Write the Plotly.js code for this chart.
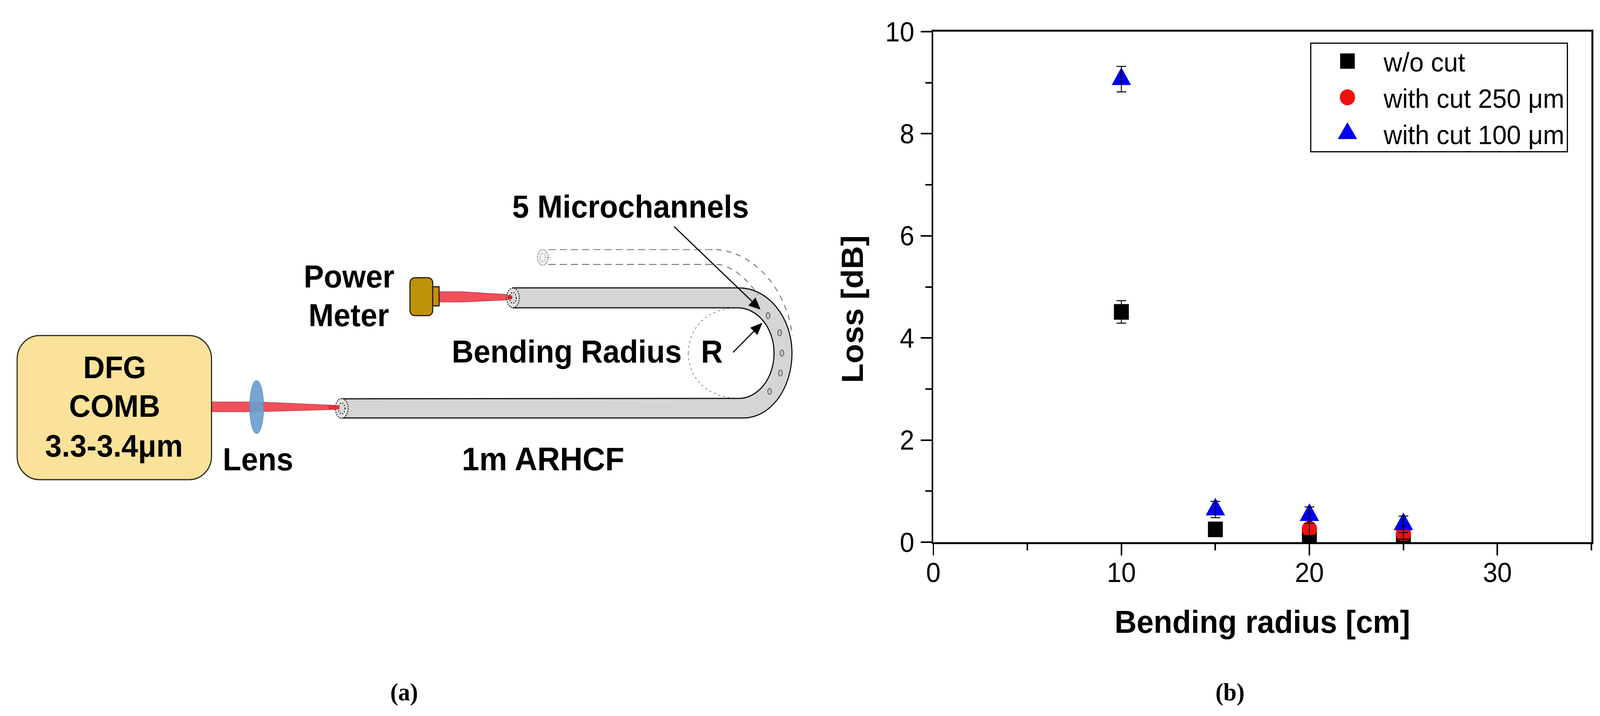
<!DOCTYPE html>
<html><head><meta charset="utf-8">
<script src="https://cdn.plot.ly/plotly-3.0.1.min.js"></script>
<style>html,body{margin:0;padding:0;background:#fff;overflow:hidden}</style></head>
<body><div id="chart" style="width:4289px;height:1833px;transform-origin:0 0"></div>
<script>
const W = 4289, H = 1833;
// Fit the drawing to the actual window if it differs from the nominal size
document.getElementById('chart').style.transform = `scale(${window.innerWidth / W},${window.innerHeight / H})`;
// Chart data
const radius = [10, 15, 20, 25];
const radius250 = [20, 25];
const lossNoCut = [4.51, 0.25, 0.08, 0.01];
const errNoCut = [0.22, 0.05, 0.05, 0.05];
const loss250 = [0.26, 0.17];
const err250 = [0.15, 0.15];
const loss100 = [9.07, 0.64, 0.53, 0.35];
const err100 = [0.25, 0.16, 0.16, 0.16];
const seriesNames = ['w/o cut', 'with cut 250 μm', 'with cut 100 μm'];
const xTicks = [0, 10, 20, 30];
const yTicks = [0, 2, 4, 6, 8, 10];
// Diagram labels: text, x, y (centre, page pixels)
const labelText = ['DFG', 'COMB', '3.3-3.4μm', 'Lens', 'Power', 'Meter', '5 Microchannels', 'Bending Radius', 'R', '1m ARHCF'];
const labelX = [307, 307, 305, 691, 935, 935, 1690, 1519, 1908, 1456];
const labelY = [940, 1039, 1141, 1176, 708, 807, 529, 900, 900, 1175];
const labelSize = [80, 80, 80, 81, 81, 81, 81, 81, 81, 84];
const channelX = [2059, 2090, 2096, 2092, 2063];
const channelY = [808, 852, 904, 955, 1002];

const sans = 'Liberation Sans, Arial, sans-serif';
const P = {xref: 'x2', yref: 'y2'};
const k = 0.5523;
function path(d, fill, color, width, dash) {
  const s = Object.assign({type: 'path', path: d, line: {color: color || 'rgba(0,0,0,0)', width: width === undefined ? 3 : width}}, P);
  if (fill) s.fillcolor = fill;
  if (dash) s.line.dash = dash;
  return s;
}
function ell(cx, cy, rx, ry, fill, color, width, dash, opacity) {
  const s = Object.assign({type: 'circle', x0: cx - rx, x1: cx + rx, y0: cy - ry, y1: cy + ry, fillcolor: fill || 'rgba(0,0,0,0)', line: {color: color, width: width, dash: dash || 'solid'}}, P);
  if (opacity !== undefined) s.opacity = opacity;
  return s;
}
function roundRect(x0, y0, x1, y1, r) {
  const c = r * (1 - k);
  return `M${x0 + r},${y0} L${x1 - r},${y0} C${x1 - c},${y0} ${x1},${y0 + c} ${x1},${y0 + r} L${x1},${y1 - r} C${x1},${y1 - c} ${x1 - c},${y1} ${x1 - r},${y1} L${x0 + r},${y1} C${x0 + c},${y1} ${x0},${y1 - c} ${x0},${y1 - r} L${x0},${y0 + r} C${x0},${y0 + c} ${x0 + c},${y0} ${x0 + r},${y0} Z`;
}
const fiber = `M1375,737 L1980,737 C${1980 + 143 * k},737 2123,${904 - 167 * k} 2123,904 C2123,${904 + 166 * k} ${1993 + 130 * k},1070 1993,1070 L916,1070 L916,1021 L1980,1020 C${1980 + 95 * k},1020 2075,${904 + 116 * k} 2075,904 C2075,${904 - 116 * k} ${1977 + 98 * k},788 1977,788 L1375,788 Z`;
const shapes = [
  path(`M567,1029 L690,1029 L910,1038 L910,1048 L690,1054 L567,1054 Z`, '#F0505A', '#C83A48', 1.5),
  path(`M1177,747 L1240,747 L1375,755 L1375,767 L1240,773 L1177,773 Z`, '#F0505A', '#B82A38', 1.5),
  path(roundRect(46, 859, 567, 1228, 60), '#FBE29B', '#2a2a1a', 3),
  ell(688, 1042, 18.5, 67.5, '#6C9FCF', '#5A8CBC', 2, 'solid', 0.92),
  path(`M1845,904 C1845,${904 - 116 * k} ${1960 - 115 * k},788 1977,788`, null, '#8a8a8a', 2, '6px,7px'),
  path(`M1845,904 C1845,${904 + 116 * k} ${1960 - 115 * k},1020 1985,1020`, null, '#8a8a8a', 2, '6px,7px'),
  path(fiber, '#D5D5D5', '#111', 3),
  ell(916, 1045.5, 17, 25, '#E4E4E4', '#222', 3, '3px,3px'),
  ell(916, 1045.5, 9, 14, '#D8D8D8', '#333', 3, '3px,4px'),
  ell(1375, 762.5, 17, 25, '#E4E4E4', '#222', 3, '3px,3px'),
  ell(1375, 762.5, 9, 14, '#D8D8D8', '#333', 3, '3px,4px'),
  path(`M910,1038 L880,1037 L880,1049 L910,1048 Z`, '#E0303C', null, 0),
  path(`M1373,757 L1360,756 L1360,767 L1373,766 Z`, '#D81F2C', null, 0),
  ell(1455, 659, 14, 20, '#F4F4F4', '#666', 3, '2px,3px'),
  ell(1455, 659, 7, 11, '#F4F4F4', '#777', 2, '2px,3px'),
  path(`M1470,639 L1920,639`, null, '#888', 2.5, '20px,10px'),
  path(`M1470,677 L1923,677`, null, '#777', 2.5, '20px,10px'),
  path(`M1920,639 C2020,645 2110,740 2124,860`, null, '#777', 2.5, '14px,13px'),
  path(`M1923,677 C1960,680 2000,710 2032,755`, null, '#777', 2.5, '14px,13px'),
  path(roundRect(1099, 711, 1160, 808, 13), '#C09209', '#2a1c00', 3),
  path(`M1160,734 L1177,734 L1177,783 L1160,783 Z`, '#C09209', '#2a1c00', 3),
  path(`M1807,580 L2022,777`, null, '#000', 3),
  path(`M2038,792 L2007,782 L2025,762 Z`, '#000', '#000', 1),
  path(`M1965,902 L2025,844`, null, '#000', 3),
  path(`M2043,827 L2030,857 L2012,839 Z`, '#000', '#000', 1)
];
channelX.forEach((x, i) => shapes.push(ell(x, channelY[i], 5, 8, '#C4C4C4', '#555', 2)));

const annotations = labelText.map((t, i) => Object.assign({
  text: t, x: labelX[i], y: labelY[i], showarrow: false, xanchor: 'center', yanchor: 'middle',
  font: {family: sans, size: labelSize[i], color: '#000', weight: 700}
}, P));
['(a)', '(b)'].forEach((t, i) => annotations.push(Object.assign({
  text: t, x: [1083, 3297][i], y: 1771, showarrow: false, xanchor: 'center', yanchor: 'middle',
  font: {family: 'Liberation Serif, serif', size: 64, color: '#000', weight: 700}
}, P)));

const errBar = (arr, w) => ({type: 'data', array: arr, visible: true, color: '#000', thickness: 2.5, width: w});
const ghost = (x, y, e, w) => ({x, y, type: 'scatter', mode: 'markers', showlegend: false, hoverinfo: 'skip',
  marker: {size: 2, color: 'rgba(0,0,0,0)'}, error_y: errBar(e, w)});
const traces = [
  {x: radius, y: lossNoCut, name: seriesNames[0], type: 'scatter', mode: 'markers', marker: {symbol: 'square', size: 40, color: '#000'}},
  {x: radius250, y: loss250, name: seriesNames[1], type: 'scatter', mode: 'markers', marker: {symbol: 'circle', size: 41, color: '#F50F0F'}},
  {x: radius, y: loss100, name: seriesNames[2], type: 'scatter', mode: 'markers', marker: {symbol: 'triangle-up', size: 45, color: '#0000F0'}},
  ghost(radius, lossNoCut, errNoCut, 13), ghost(radius250, loss250, err250, 6), ghost(radius, loss100, err100, 13)
];
const L = 2502, R = 4266, T = 81, B = 1388;
const tickFont = {family: sans, size: 70, color: '#000'};
const layout = {
  width: W, height: H, margin: {l: 0, r: 0, t: 0, b: 0, pad: 0}, paper_bgcolor: '#fff', plot_bgcolor: 'rgba(0,0,0,0)',
  showlegend: true,
  hovermode: false,
  xaxis: {domain: [L / W, R / W], range: [0, 35], anchor: 'y', showgrid: false, zeroline: false, showline: true, mirror: true,
    linecolor: '#000', linewidth: 5, ticks: 'outside', ticklen: 29, tickwidth: 4, tickcolor: '#000', tickvals: xTicks, ticktext: xTicks.map(String),
    tickfont: tickFont, ticklabelstandoff: -16,
    minor: {ticks: 'outside', ticklen: 16, tickwidth: 4, tickcolor: '#000', tickvals: [5, 15, 25, 35], showgrid: false},
    title: {text: '<b>Bending radius [cm]</b>', font: {family: sans, size: 82, color: '#000'}, standoff: 60}},
  yaxis: {domain: [1 - B / H, 1 - T / H], range: [0, 10], anchor: 'x', showgrid: false, zeroline: false, showline: true, mirror: true,
    linecolor: '#000', linewidth: 5, ticks: 'outside', ticklen: 29, tickwidth: 4, tickcolor: '#000', tickvals: yTicks, ticktext: yTicks.map(String),
    tickfont: tickFont, ticklabelstandoff: 3,
    minor: {ticks: 'outside', ticklen: 16, tickwidth: 4, tickcolor: '#000', tickvals: [1, 3, 5, 7, 9], showgrid: false},
    title: {text: '<b>Loss [dB]</b>', font: {family: sans, size: 82, color: '#000'}, standoff: 34}},
  xaxis2: {domain: [0, 1], range: [0, W], anchor: 'y2', visible: false, fixedrange: true},
  yaxis2: {domain: [0, 1], range: [H, 0], anchor: 'x2', visible: false, fixedrange: true},
  legend: {x: 3512 / W, y: 1 - 102 / H, xanchor: 'left', yanchor: 'top', xref: 'paper', yref: 'paper',
    bgcolor: '#fff', bordercolor: '#000', borderwidth: 3, itemwidth: 184, itemsizing: 'trace',
    font: {family: sans, size: 69, color: '#000'}},
  shapes, annotations
};
let titleBase = null, bgBase = null;
function refine(gd) {
  // Origin's triangles are taller than Plotly's equilateral ones; legend keys are capped at 16px by default.
  const scale = (p, sx, sy) => p.setAttribute('transform', (p.getAttribute('transform') || '').replace(/ ?scale\([^)]*\)/, '') + ` scale(${sx},${sy})`);
  gd.querySelectorAll('.cartesianlayer .scatterlayer .trace').forEach(t => {
    const d = t.__data__ && t.__data__[0] && t.__data__[0].trace;
    if (d && d.marker && d.marker.symbol === 'triangle-up') t.querySelectorAll('.points path').forEach(p => scale(p, 1, 1.34));
  });
  const f = [[2.45, 2.45], [2.56, 2.56], [2.81, 3.58]];
  gd.querySelectorAll('.legend .legendpoints path.scatterpts').forEach((p, i) => { if (f[i]) scale(p, f[i][0], f[i][1]); });
  // The reference's y title sits below the axis centre.
  const yt = gd.querySelector('.ytitle');
  if (yt) {
    if (titleBase === null) titleBase = yt.getAttribute('transform') || '';
    yt.setAttribute('transform', 'translate(0,57) ' + titleBase);
  }
  // The reference's legend frame is tighter than Plotly's row box.
  const bg = gd.querySelector('.legend rect.bg');
  if (bg) {
    if (bgBase === null) bgBase = {y: +bg.getAttribute('y'), h: +bg.getAttribute('height')};
    bg.setAttribute('y', bgBase.y + 7);
    bg.setAttribute('height', bgBase.h - 14);
  }
}
Plotly.newPlot('chart', traces, layout, {staticPlot: true, displayModeBar: false}).then(gd => {
  refine(gd);
  setTimeout(() => refine(gd), 50);
  setTimeout(() => refine(gd), 300);
});
</script></body></html>
